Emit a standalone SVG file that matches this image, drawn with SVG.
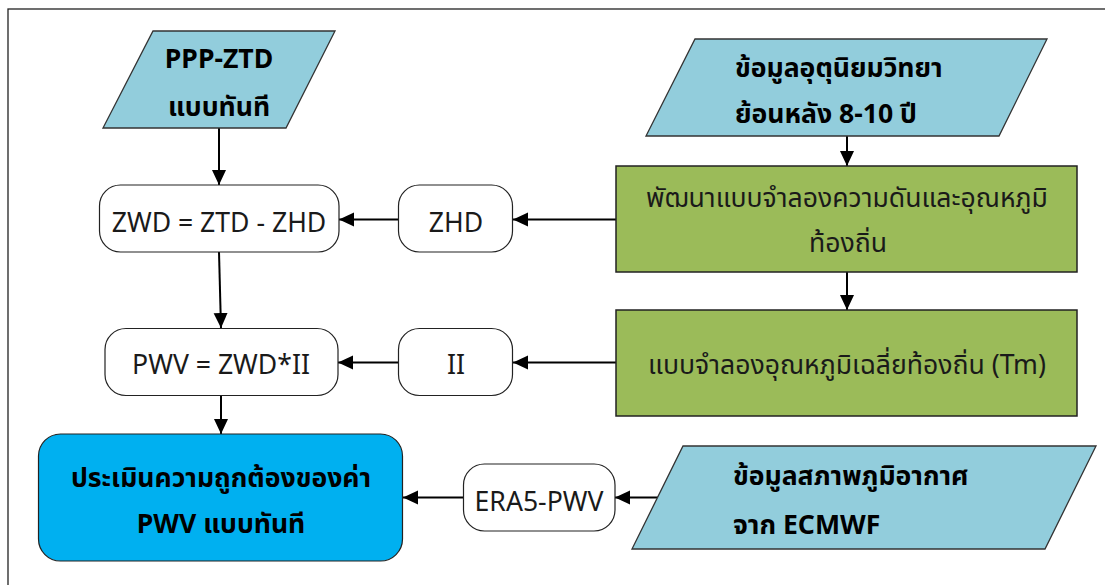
<svg xmlns="http://www.w3.org/2000/svg" width="1105" height="585" viewBox="0 0 1105 585">
<style>
text{font-family:"Noto Sans","Noto Sans Thai","DejaVu Sans",sans-serif;font-size:26.6px;fill:#1a1a1a}
.b{font-weight:bold;fill:#000}
.m{text-anchor:middle}
.para{fill:#92CDDC;stroke:#333;stroke-width:1.3}
.green{fill:#9BBB59;stroke:#222;stroke-width:1.5}
.rb{fill:#fff;stroke:#222;stroke-width:1.2}
.blue{fill:#00B0F0;stroke:#222;stroke-width:1.2}
.c{stroke:#000;stroke-width:2;fill:none;marker-end:url(#ah)}
</style>
<defs>
<marker id="ah" markerUnits="userSpaceOnUse" markerWidth="16" markerHeight="16" viewBox="0 0 16 16" refX="15" refY="8" orient="auto">
<path d="M0,1 L15,8 L0,15 Z" fill="#000"/>
</marker>
</defs>
<rect x="8" y="9" width="1200" height="700" fill="#fff" stroke="#222" stroke-width="1.3"/>
<g id="connectors">
<line class="c" x1="219" y1="128" x2="219" y2="185"/>
<line class="c" x1="847" y1="136" x2="847" y2="166"/>
<line class="c" x1="847" y1="272" x2="847" y2="310"/>
<line class="c" x1="616" y1="219.5" x2="513" y2="219.5"/>
<line class="c" x1="398" y1="219.5" x2="339" y2="219.5"/>
<line class="c" x1="219" y1="252" x2="221" y2="328"/>
<line class="c" x1="616" y1="362.5" x2="513" y2="362.5"/>
<line class="c" x1="398" y1="362.5" x2="338" y2="362.5"/>
<line class="c" x1="221" y1="396" x2="221" y2="434"/>
<line class="c" x1="658" y1="497.5" x2="615" y2="497.5"/>
<line class="c" x1="463" y1="497.5" x2="403" y2="497.5"/>
</g>
<g id="ppp-ztd">
<polygon class="para" points="153,31 335,31 286,128 103,128"/>
<text class="b m" x="219" y="68">PPP-ZTD</text>
<text class="b m" x="219" y="116">แบบทันที</text>
</g>
<g id="climate">
<polygon class="para" points="695,39 1047,39 999,136 646,136"/>
<text class="b" x="735" y="77">ข้อมูลอุตุนิยมวิทยา</text>
<text class="b" x="735" y="123">ย้อนหลัง 8-10 ปี</text>
</g>
<g id="model-pt">
<rect class="green" x="616" y="166" width="461" height="106"/>
<text class="m" x="847" y="207">พัฒนาแบบจำลองความดันและอุณหภูมิ</text>
<text class="m" x="848" y="252">ท้องถิ่น</text>
</g>
<g id="model-tm">
<rect class="green" x="616" y="310" width="461" height="106"/>
<text class="m" x="847" y="374">แบบจำลองอุณหภูมิเฉลี่ยท้องถิ่น (Tm)</text>
</g>
<g id="zwd">
<rect class="rb" x="99.5" y="185" width="239.5" height="67" rx="21"/>
<text class="m" x="219" y="232">ZWD = ZTD - ZHD</text>
</g>
<g id="zhd">
<rect class="rb" x="398.5" y="185" width="114" height="67" rx="21"/>
<text class="m" x="456" y="232">ZHD</text>
</g>
<g id="pwv">
<rect class="rb" x="105" y="328.5" width="233" height="67" rx="21"/>
<text class="m" x="221" y="374">PWV = ZWD*II</text>
</g>
<g id="ii">
<rect class="rb" x="398.5" y="328.5" width="114" height="67" rx="21"/>
<text class="m" x="456" y="374">II</text>
</g>
<g id="evaluate">
<rect class="blue" x="38.5" y="434" width="364" height="127" rx="22"/>
<text class="b m" x="221" y="487">ประเมินความถูกต้องของค่า</text>
<text class="b m" x="221" y="533">PWV แบบทันที</text>
</g>
<g id="era5">
<rect class="rb" x="463.5" y="464" width="151.5" height="67" rx="21"/>
<text class="m" x="539" y="511">ERA5-PWV</text>
</g>
<g id="ecmwf">
<polygon class="para" points="683,446 1096,446 1045,549 632,549"/>
<text class="b" x="733" y="485">ข้อมูลสภาพภูมิอากาศ</text>
<text class="b" x="733" y="534">จาก ECMWF</text>
</g>
</svg>
